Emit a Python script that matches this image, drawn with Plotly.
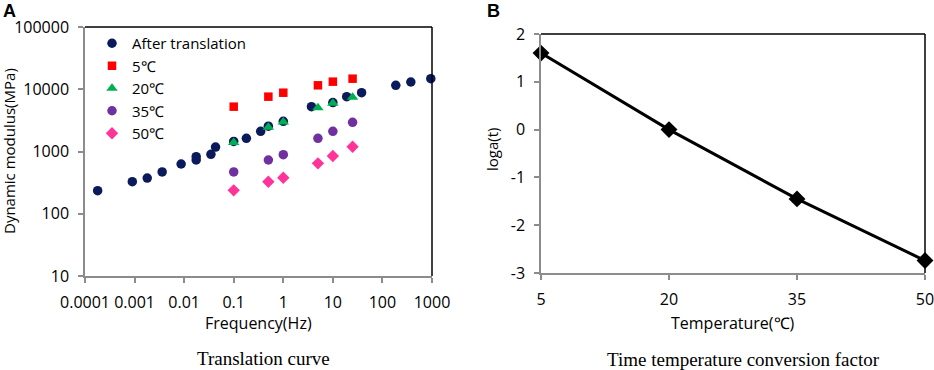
import plotly.graph_objects as go

W, H = 934, 370

# ---- Panel A data ----
after_f = [0.00018, 0.0009, 0.0018, 0.0036, 0.0087, 0.0175, 0.0175, 0.0347, 0.043,
           0.1, 0.18, 0.35, 0.5, 1, 3.7, 10, 19, 38, 186, 374, 946]
after_E = [235, 327, 375, 469, 630, 826, 730, 902, 1180,
           1450, 1630, 2110, 2550, 3050, 5250, 6100, 7600, 8800, 11570, 13070, 14780]
temp_f = [0.1, 0.5, 1, 5, 10, 25]
E_5 = [5250, 7600, 8800, 11570, 13240, 14780]
E_20 = [1390, 2450, 2980, 5050, 5940, 7410]
E_35 = [469, 730, 889, 1630, 2110, 2945]
E_50 = [238, 327, 379, 646, 848, 1194]

x_ticks = [0.0001, 0.001, 0.01, 0.1, 1, 10, 100, 1000]
x_ticktext = ["0.0001", "0.001", "0.01", "0.1", "1", "10", "100", "1000"]
y_ticks = [10, 100, 1000, 10000, 100000]
y_ticktext = ["10", "100", "1000", "10000", "100000"]

# ---- Panel B data ----
temps = [5, 20, 35, 50]
loga = [1.6, 0.0, -1.45, -2.74]
loga_ticks = [-3, -2, -1, 0, 1, 2]
loga_ticktext = ["-3", "-2", "-1", "0", "1", "2"]

FONT = "Open Sans"
GREY = "#8c8c8c"

fig = go.Figure()

series = [
    ("After translation", after_f, after_E, "circle", "#0b1a5b", 9.5),
    ("5℃", temp_f, E_5, "square", "#ff0000", 8.5),
    ("20℃", temp_f, E_20, "triangle-up", "#00b050", 10),
    ("35℃", temp_f, E_35, "circle", "#7030a0", 9.5),
    ("50℃", temp_f, E_50, "diamond", "#ff3399", 9.5),
]
for name, xs, ys, sym, col, sz in series:
    fig.add_trace(go.Scatter(x=xs, y=ys, mode="markers", name=name,
                             marker=dict(symbol=sym, color=col, size=sz, line=dict(width=0)),
                             xaxis="x", yaxis="y", cliponaxis=False))

fig.add_trace(go.Scatter(x=temps, y=loga, mode="lines+markers", showlegend=False,
                         line=dict(color="black", width=3),
                         marker=dict(symbol="diamond", color="black", size=13),
                         xaxis="x2", yaxis="y2", cliponaxis=False))

def px_x(p):
    return p / W

def px_y(p):
    return 1 - p / H

axis_common = dict(showline=True, linecolor=GREY, linewidth=1.5, ticks="outside",
                   ticklen=5, tickcolor=GREY, tickwidth=1.5, showgrid=False, zeroline=False,
                   automargin=False, ticklabeloverflow="allow",
                   tickfont=dict(family=FONT, size=16, color="black"), ticklabelstandoff=6)

fig.update_layout(
    width=W, height=H, margin=dict(l=0, r=0, t=0, b=0, autoexpand=False),
    paper_bgcolor="white", plot_bgcolor="white",
    xaxis=dict(type="log", range=[-4, 3], domain=[px_x(85), px_x(432)],
               tickvals=x_ticks, ticktext=x_ticktext, anchor="y", **axis_common),
    yaxis=dict(type="log", range=[1, 5], domain=[px_y(276), px_y(27)],
               tickvals=y_ticks, ticktext=y_ticktext, anchor="x", **axis_common),
    xaxis2=dict(range=[5, 50], domain=[px_x(541), px_x(925)], tickvals=temps,
                anchor="y2", **axis_common),
    yaxis2=dict(range=[-3, 2], domain=[px_y(273), px_y(34)], tickvals=loga_ticks,
                ticktext=loga_ticktext, anchor="x2", **axis_common),
    legend=dict(x=px_x(92), y=px_y(27), xanchor="left", yanchor="top",
                bgcolor="rgba(0,0,0,0)", font=dict(family=FONT, size=15, color="black"),
                tracegroupgap=0, itemsizing="trace"),
    showlegend=True,
)

# black top/right frame lines
for xr, yr in (("x domain", "y domain"), ("x2 domain", "y2 domain")):
    fig.add_shape(type="line", xref=xr, yref=yr, x0=0, x1=1, y0=1, y1=1,
                  line=dict(color="black", width=1.5))
    fig.add_shape(type="line", xref=xr, yref=yr, x0=1, x1=1, y0=0, y1=1,
                  line=dict(color="black", width=1.5))

def ann(text, x, y, size, family=FONT, angle=0, bold=False, xanchor="center", yanchor="middle"):
    fig.add_annotation(text=f"<b>{text}</b>" if bold else text, x=px_x(x), y=px_y(y),
                       xref="paper", yref="paper", showarrow=False, textangle=angle,
                       xanchor=xanchor, yanchor=yanchor, borderpad=0,
                       font=dict(family=family, size=size, color="black"))

ann("A", 2, 0, 18, family="Liberation Sans", bold=True, xanchor="left", yanchor="top")
ann("B", 486, 0, 18, family="Liberation Sans", bold=True, xanchor="left", yanchor="top")
ann("Dynamic modulus(MPa)", 9, 151, 15, angle=-90)
ann("Frequency(Hz)", 258, 323, 16)
ann("Translation curve", 263, 358, 19, family="Liberation Serif")
ann("loga(t)", 492, 150, 15, angle=-90)
ann("Temperature(℃)", 733, 323, 16)
ann("Time temperature conversion factor", 743, 359, 19, family="Liberation Serif")

fig.write_html("out.html", config={"displayModeBar": False},
               post_script="document.body.style.margin='0';document.body.style.overflow='hidden';")
